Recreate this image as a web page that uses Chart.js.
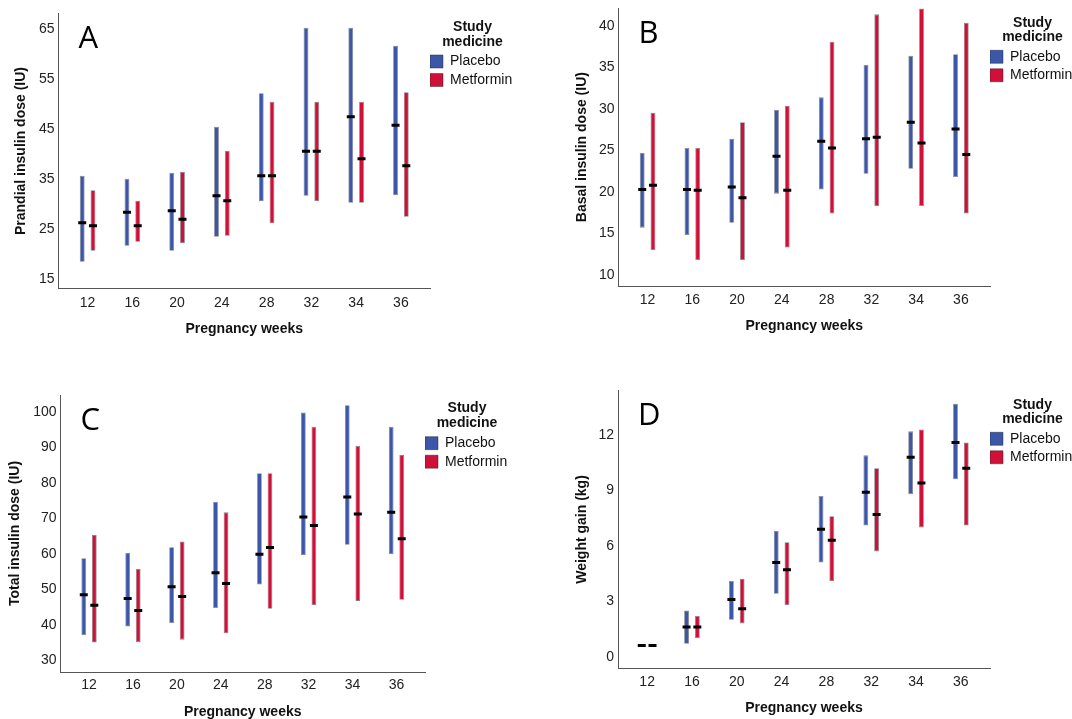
<!DOCTYPE html>
<html>
<head>
<meta charset="utf-8">
<title>Insulin dose and weight gain by pregnancy week</title>
<script src="https://cdn.jsdelivr.net/npm/chart.js@4.4.1/dist/chart.umd.min.js"></script>
<style>
  html, body { margin: 0; padding: 0; background: #fff; overflow: hidden; }
  body { position: relative; width: 1072px; height: 719px; overflow: hidden; }
  canvas { position: absolute; }
</style>
</head>
<body>
<canvas id="chartA"></canvas>
<canvas id="chartB"></canvas>
<canvas id="chartC"></canvas>
<canvas id="chartD"></canvas>
<script>
// categories
const weeks = ['12', '16', '20', '24', '28', '32', '34', '36'];
const groups = ['Placebo', 'Metformin'];

// A: prandial insulin dose (IU), range low/high and median
const prandialPlaceboLow = [18.5, 21.7, 20.7, 23.5, 30.6, 31.7, 30.3, 31.8];
const prandialPlaceboHigh = [35.7, 35.1, 36.3, 45.5, 52.2, 65.3, 65.3, 61.7];
const prandialPlaceboMed = [26.3, 28.4, 28.7, 31.7, 35.7, 40.6, 47.5, 45.8];
const prandialMetforminLow = [20.7, 22.5, 22.2, 23.7, 26.2, 30.6, 30.3, 27.5];
const prandialMetforminHigh = [32.8, 30.7, 36.5, 40.7, 50.5, 50.5, 50.5, 52.4];
const prandialMetforminMed = [25.7, 25.7, 27.0, 30.7, 35.7, 40.6, 39.1, 37.7];

// B: basal insulin dose (IU)
const basalPlaceboLow = [15.7, 14.8, 16.3, 19.8, 20.3, 22.2, 22.8, 21.8];
const basalPlaceboHigh = [24.7, 25.3, 26.4, 29.9, 31.4, 35.3, 36.4, 36.6];
const basalPlaceboMed = [20.3, 20.3, 20.6, 24.3, 26.1, 26.4, 28.4, 27.6];
const basalMetforminLow = [13.0, 11.8, 11.8, 13.3, 17.4, 18.3, 18.3, 17.4];
const basalMetforminHigh = [29.5, 25.3, 28.4, 30.4, 38.1, 41.4, 42.1, 40.4];
const basalMetforminMed = [20.8, 20.2, 19.3, 20.2, 25.3, 26.6, 25.9, 24.5];

// C: total insulin dose (IU)
const totalPlaceboLow = [37.2, 39.6, 40.6, 44.8, 51.4, 59.7, 62.6, 59.9];
const totalPlaceboHigh = [58.8, 60.3, 61.9, 74.7, 82.7, 99.8, 101.8, 95.8];
const totalPlaceboMed = [48.5, 47.5, 50.8, 54.7, 59.9, 70.4, 76.0, 71.7];
const totalMetforminLow = [35.1, 35.2, 35.9, 37.7, 44.6, 45.6, 46.8, 47.1];
const totalMetforminHigh = [65.3, 55.8, 63.5, 71.7, 82.7, 95.8, 90.4, 87.8];
const totalMetforminMed = [45.6, 44.1, 48.0, 51.7, 61.8, 68.0, 71.2, 64.3];

// D: weight gain (kg)
const weightPlaceboLow = [0.6, 0.7, 2.0, 3.4, 5.1, 7.1, 8.8, 9.6];
const weightPlaceboHigh = [0.6, 2.5, 4.1, 6.8, 8.7, 10.9, 12.2, 13.7];
const weightPlaceboMed = [0.6, 1.6, 3.1, 5.1, 6.9, 8.9, 10.8, 11.6];
const weightMetforminLow = [0.6, 1.0, 1.8, 2.8, 4.1, 5.7, 7.0, 7.1];
const weightMetforminHigh = [0.6, 2.2, 4.2, 6.2, 7.6, 10.2, 12.3, 11.6];
const weightMetforminMed = [0.6, 1.6, 2.6, 4.7, 6.3, 7.7, 9.4, 10.2];

// y tick labels
const prandialTicks = [15, 25, 35, 45, 55, 65];
const basalTicks = [10, 15, 20, 25, 30, 35, 40];
const totalTicks = [30, 40, 50, 60, 70, 80, 90, 100];
const weightTicks = [0, 3, 6, 9, 12];

const BLUE = '#3d57a8';
const RED = '#cf1139';
const CAT_PCT = 0.48;
const TITLE_LINE = 14.5;

Chart.defaults.font.family = '"Liberation Sans", Arial, sans-serif';
Chart.defaults.font.size = 14;
Chart.defaults.color = '#222';

// big panel letter in the top-left corner of the plot
const panelLetter = {
  id: 'panelLetter',
  afterDraw(chart, args, opts) {
    const { ctx, chartArea } = chart;
    ctx.save();
    ctx.font = '31px "Open Sans", "DejaVu Sans", sans-serif';
    ctx.fillStyle = '#000';
    ctx.textBaseline = 'alphabetic';
    ctx.fillText(opts.text, chartArea.left + 20, chartArea.top + 34.7);
    ctx.restore();
  }
};

function rangeData(low, high) {
  return weeks.map((w, i) => ({ x: i, y: [low[i], high[i]] }));
}

function medianData(med, shift) {
  return weeks.map((w, i) => ({ x: i + shift, y: med[i] }));
}

function makePanel(id, letter, yTitle, yRange, yTicks, series, g) {
  const canvas = document.getElementById(id);
  canvas.width = g.cw;
  canvas.height = g.ch;
  canvas.style.left = g.cx + 'px';
  canvas.style.top = g.cy + 'px';

  const half = 8.4; // half line height of 14px text
  const pad = {
    left: g.yTitleX - g.cx - half,
    top: g.T - g.cy,
    right: g.cx + g.cw - g.R - g.legendW,
    bottom: g.cy + g.ch - g.xTitleY - half
  };
  const yWidth = g.L - g.cx - pad.left;
  const xHeight = g.xTitleY + half - g.B;
  const titleTop = g.legTitleY - g.T - 7;
  const titleBottom = g.boxTop - 0.5 - g.T - TITLE_LINE - titleTop;

  const bar = (label, color, low, high) => ({
    type: 'bar',
    label: label,
    data: rangeData(low, high),
    backgroundColor: color,
    borderColor: 'rgba(30,30,40,0.55)',
    borderWidth: 0.8,
    borderSkipped: false,
    categoryPercentage: CAT_PCT,
    barPercentage: 0.45,
    order: 1
  });
  const median = (label, med, shift) => ({
    type: 'line',
    label: label,
    data: medianData(med, shift),
    showLine: false,
    pointStyle: 'line',
    pointRadius: 4,
    pointHoverRadius: 4,
    pointBorderWidth: 3,
    borderColor: '#000',
    backgroundColor: '#000',
    order: 0
  });

  return new Chart(canvas, {
    type: 'bar',
    data: {
      datasets: [
        bar(groups[0], BLUE, series[0], series[1]),
        bar(groups[1], RED, series[3], series[4]),
        median(groups[0] + ' median', series[2], -CAT_PCT / 4),
        median(groups[1] + ' median', series[5], CAT_PCT / 4)
      ]
    },
    plugins: [panelLetter],
    options: {
      responsive: false,
      animation: false,
      layout: { padding: pad },
      scales: {
        x: {
          type: 'linear',
          min: -0.65,
          max: 7.65,
          offset: false,
          grid: { display: false, drawTicks: false },
          border: { display: true, color: '#555', width: 1 },
          afterBuildTicks: (axis) => { axis.ticks = weeks.map((w, i) => ({ value: i })); },
          ticks: {
            padding: g.xTickY - g.B - half,
            color: '#222',
            autoSkip: false,
            maxRotation: 0,
            callback: (v) => weeks[v]
          },
          title: {
            display: true,
            text: 'Pregnancy weeks',
            font: { weight: 'bold' },
            color: '#111',
            padding: { top: 0, bottom: 0 }
          },
          afterFit: (axis) => { axis.height = xHeight; }
        },
        y: {
          type: 'linear',
          min: yRange[0],
          max: yRange[1],
          grid: { display: false, drawTicks: false },
          border: { display: true, color: '#555', width: 1 },
          afterBuildTicks: (axis) => { axis.ticks = yTicks.map((v) => ({ value: v })); },
          ticks: { padding: 4, color: '#222' },
          title: {
            display: true,
            text: yTitle,
            font: { weight: 'bold' },
            color: '#111',
            padding: 0
          },
          afterFit: (axis) => { axis.width = yWidth; }
        }
      },
      plugins: {
        panelLetter: { text: letter },
        tooltip: { enabled: false },
        legend: {
          position: 'right',
          align: 'start',
          maxWidth: g.legendW,
          title: {
            display: true,
            text: ['Study', 'medicine'],
            color: '#111',
            font: { weight: 'bold', lineHeight: TITLE_LINE + 'px' },
            padding: { top: titleTop, bottom: titleBottom }
          },
          labels: {
            boxWidth: 13,
            boxHeight: 13,
            padding: 0,
            color: '#111',
            font: { lineHeight: '18.5px' },
            generateLabels: (chart) => Chart.defaults.plugins.legend.labels.generateLabels(chart)
              .filter((item) => item.datasetIndex < 2)
              .map((item) => Object.assign(item, { text: [item.text] }))
          }
        }
      }
    }
  });
}

makePanel('chartA', 'A', 'Prandial insulin dose (IU)', [13.12, 68.2], prandialTicks,
  [prandialPlaceboLow, prandialPlaceboHigh, prandialPlaceboMed,
   prandialMetforminLow, prandialMetforminHigh, prandialMetforminMed],
  { cx: 0, cy: -10, cw: 536, ch: 370, L: 58.5, R: 430, T: 13.3, B: 288.7,
    yTitleX: 21, xTickY: 302.7, xTitleY: 329.3, legTitleY: 27.5, boxTop: 55, legendW: 85 });

makePanel('chartB', 'B', 'Basal insulin dose (IU)', [8.67, 42.13], basalTicks,
  [basalPlaceboLow, basalPlaceboHigh, basalPlaceboMed,
   basalMetforminLow, basalMetforminHigh, basalMetforminMed],
  { cx: 536, cy: -10, cw: 545, ch: 370, L: 618.5, R: 990, T: 8.3, B: 286,
    yTitleX: 582.5, xTickY: 300, xTitleY: 326, legTitleY: 22.7, boxTop: 50.3, legendW: 85 });

makePanel('chartC', 'C', 'Total insulin dose (IU)', [26.8, 104.7], totalTicks,
  [totalPlaceboLow, totalPlaceboHigh, totalPlaceboMed,
   totalMetforminLow, totalMetforminHigh, totalMetforminMed],
  { cx: 0, cy: 360, cw: 536, ch: 359, L: 60.5, R: 425, T: 395, B: 672,
    yTitleX: 15.5, xTickY: 685, xTitleY: 711.7, legTitleY: 408.3, boxTop: 436.7, legendW: 84 });

makePanel('chartD', 'D', 'Weight gain (kg)', [-0.63, 14.4], weightTicks,
  [weightPlaceboLow, weightPlaceboHigh, weightPlaceboMed,
   weightMetforminLow, weightMetforminHigh, weightMetforminMed],
  { cx: 536, cy: 360, cw: 545, ch: 359, L: 618, R: 990, T: 390.7, B: 668.3,
    yTitleX: 582, xTickY: 681.7, xTitleY: 708.3, legTitleY: 405, boxTop: 432.3, legendW: 85 });
</script>
</body>
</html>
